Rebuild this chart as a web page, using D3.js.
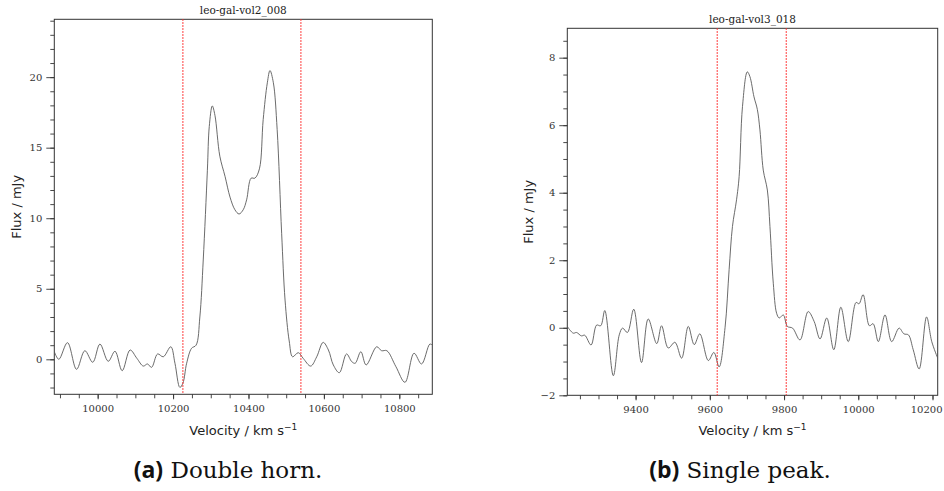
<!DOCTYPE html>
<html>
<head>
<meta charset="utf-8">
<script src="https://cdn.jsdelivr.net/npm/d3@7"></script>
<style>
  html, body { margin: 0; padding: 0; background: #fff; }
  svg { display: block; }
</style>
</head>
<body>
<svg id="chart" width="944" height="491"></svg>
<script>
// spectrum (a): double horn
const leftVelocity = [9885, 9897, 9920, 9944, 9966, 9987, 10006, 10028, 10046, 10065, 10086, 10104, 10121, 10132, 10143, 10159, 10174, 10194, 10205, 10218, 10226, 10236, 10249, 10261, 10271, 10280, 10291, 10296, 10304, 10311, 10324, 10338, 10351, 10364, 10375, 10386, 10395, 10407, 10417, 10429, 10439, 10450, 10457, 10466, 10476, 10488, 10497, 10508, 10517, 10532, 10545, 10565, 10581, 10598, 10612, 10625, 10641, 10660, 10674, 10683, 10698, 10712, 10740, 10753, 10767, 10791, 10815, 10839, 10859, 10881, 10888];
const leftFlux = [0.54, 0.0, 1.18, -0.71, 0.61, -0.21, 1.08, -0.14, 0.57, -0.81, 0.66, 0.07, -0.48, -0.33, -0.57, 0.38, 0.18, 0.89, -0.28, -1.99, -1.7, -0.28, 0.78, 1.0, 3.0, 7.04, 13.4, 16.5, 17.96, 17.3, 14.4, 12.95, 11.5, 10.6, 10.3, 10.6, 11.3, 12.84, 12.84, 13.5, 17.0, 19.6, 20.47, 19.6, 16.3, 8.9, 4.2, 1.3, 0.18, 0.47, 0.07, -0.48, 0.18, 1.2, 0.66, -0.4, -0.95, 0.38, -0.17, -0.28, 0.54, -0.4, 0.89, 0.61, 0.61, -0.52, -1.63, 0.43, -0.33, 1.08, 1.0];
const leftMarkers = [10226, 10539];

// spectrum (b): single peak
const rightVelocity = [9216, 9232, 9241, 9254, 9263, 9280, 9295, 9306, 9317, 9340, 9356, 9365, 9378, 9395, 9416, 9434, 9457, 9470, 9488, 9506, 9524, 9542, 9558, 9573, 9596, 9611, 9625, 9641, 9652, 9661, 9672, 9679, 9688, 9701, 9708, 9719, 9728, 9735, 9744, 9755, 9762, 9771, 9780, 9787, 9798, 9809, 9823, 9843, 9865, 9881, 9897, 9915, 9934, 9953, 9973, 9994, 10002, 10013, 10030, 10040, 10054, 10072, 10090, 10110, 10123, 10135, 10148, 10164, 10184, 10198, 10214];
const rightFlux = [0.04, -0.16, -0.14, -0.24, -0.22, -0.51, 0.08, 0.06, 0.51, -1.42, -0.21, -0.01, -0.14, 0.55, -1.03, 0.26, -0.47, 0.06, -0.6, -0.43, -0.9, 0.04, -0.5, -0.18, -0.97, -0.73, -1.16, 0.0, 1.72, 3.0, 3.79, 4.48, 6.55, 7.58, 7.44, 6.84, 6.47, 5.86, 4.67, 4.08, 3.0, 1.32, 0.43, 0.29, 0.38, 0.04, -0.01, -0.36, 0.48, 0.19, -0.33, 0.29, -0.65, 0.61, -0.41, 0.75, 0.71, 0.98, 0.06, 0.12, -0.41, 0.38, -0.41, -0.01, -0.18, -0.21, -0.65, -1.22, 0.32, -0.41, -0.9];
const rightMarkers = [9620, 9806];

const leftXTicks = [10000, 10200, 10400, 10600, 10800];
const leftYTicks = [0, 5, 10, 15, 20];
const rightXTicks = [9400, 9600, 9800, 10000, 10200];
const rightYTicks = [-2, 0, 2, 4, 6, 8];

const titles = ["leo-gal-vol2_008", "leo-gal-vol3_018"];
const captionTags = ["(a)", "(b)"];
const captionTexts = ["Double horn.", "Single peak."];

const WIDTH = 944;
const svg = d3.select("#chart");
const SERIF = "'DejaVu Serif', serif";
const SANS = "'DejaVu Sans', sans-serif";

function drawPanel(p) {
    const x = d3.scaleLinear().domain(p.xDomain).range([p.left, p.right]);
    const y = d3.scaleLinear().domain(p.yDomain).range([p.bottom, p.top]);
    const g = svg.append("g");

    // minor ticks first, then major ticks with labels
    const xAxisMinor = d3.axisBottom(x).tickValues(d3.range(p.xMinor[0], p.xDomain[1], p.xMinor[1]))
        .tickSize(4).tickFormat("");
    const yAxisMinor = d3.axisLeft(y).tickValues(d3.range(p.yMinor[0], p.yDomain[1], p.yMinor[1]))
        .tickSize(4).tickFormat("");
    g.append("g").attr("transform", `translate(0,${p.bottom})`).call(xAxisMinor);
    g.append("g").attr("transform", `translate(${p.left},0)`).call(yAxisMinor);

    const xAxisG = g.append("g").attr("transform", `translate(0,${p.bottom})`)
        .call(d3.axisBottom(x).tickValues(p.xTicks).tickSize(5).tickPadding(6).tickFormat(d3.format("d")));
    g.append("g").attr("transform", `translate(${p.left},0)`)
        .call(d3.axisLeft(y).tickValues(p.yTicks).tickSize(8).tickPadding(4).tickFormat(d => d < 0 ? "\u2212" + Math.abs(d) : d));

    g.selectAll(".domain").remove();
    g.selectAll(".tick line").attr("stroke", "#333").attr("stroke-width", 0.9);
    g.selectAll(".tick text").attr("fill", "#333").style("font-family", SERIF).style("font-size", "10px");

    // keep the last velocity label inside the page, as in the original
    xAxisG.selectAll(".tick").each(function (d) {
        const t = d3.select(this).select("text");
        const w = t.node().getComputedTextLength();
        const over = x(d) + w / 2 - (WIDTH - 2);
        if (over > 0) t.attr("x", -over);
    });

    // frame
    g.append("rect")
        .attr("x", p.left).attr("y", p.top)
        .attr("width", p.right - p.left).attr("height", p.bottom - p.top)
        .attr("fill", "none").attr("stroke", "#333").attr("stroke-width", 1);

    // clip for data
    const clipId = "clip-" + p.id;
    svg.append("clipPath").attr("id", clipId)
        .append("rect").attr("x", p.left).attr("y", p.top)
        .attr("width", p.right - p.left).attr("height", p.bottom - p.top);

    const line = d3.line()
        .x(d => x(d[0]))
        .y(d => y(d[1]))
        .curve(d3.curveCatmullRom.alpha(0.5));

    g.append("path")
        .datum(d3.zip(p.velocity, p.flux))
        .attr("clip-path", `url(#${clipId})`)
        .attr("fill", "none")
        .attr("stroke", "#5a5a5a")
        .attr("stroke-width", 0.9)
        .attr("d", line);

    g.selectAll(".marker")
        .data(p.markers)
        .join("line")
        .attr("class", "marker")
        .attr("x1", d => x(d)).attr("x2", d => x(d))
        .attr("y1", p.top).attr("y2", p.bottom)
        .attr("stroke", "#ff2a2a")
        .attr("stroke-width", 1.2)
        .attr("stroke-dasharray", "1.5,1.5");

    g.append("text")
        .attr("x", (p.left + p.right) / 2).attr("y", p.top - 5)
        .attr("text-anchor", "middle")
        .attr("fill", "#222")
        .style("font-family", SERIF).style("font-size", "10.5px")
        .text(p.title);

    const xl = g.append("text")
        .attr("x", (p.left + p.right) / 2).attr("y", 435)
        .attr("text-anchor", "middle")
        .attr("fill", "#222")
        .style("font-family", SANS).style("font-size", "13px");
    xl.append("tspan").text("Velocity / km s");
    xl.append("tspan").attr("dy", -5).style("font-size", "9px").text("\u22121");

    g.append("text")
        .attr("transform", `translate(${p.yLabelX},${(p.top + p.bottom) / 2}) rotate(-90)`)
        .attr("text-anchor", "middle")
        .attr("fill", "#222")
        .style("font-family", SANS).style("font-size", "13px")
        .text("Flux / mJy");

    const cap = g.append("text")
        .attr("x", p.captionX).attr("y", 478)
        .attr("text-anchor", "middle")
        .attr("fill", "#111");
    cap.append("tspan")
        .style("font-family", "'Open Sans', sans-serif").style("font-weight", "bold").style("font-size", "23px")
        .text(p.tag);
    cap.append("tspan")
        .style("font-family", SERIF).style("font-size", "23px")
        .text(" " + p.caption);
}

drawPanel({
    id: "a", left: 54.3, right: 432.3, top: 19.3, bottom: 394.3,
    xDomain: [9885, 10887.5], yDomain: [-2.48, 24.1],
    xTicks: leftXTicks, yTicks: leftYTicks,
    xMinor: [9900, 50], yMinor: [-2, 1],
    velocity: leftVelocity, flux: leftFlux, markers: leftMarkers,
    title: titles[0], yLabelX: 21, captionX: 228, tag: captionTags[0], caption: captionTexts[0]
});

drawPanel({
    id: "b", left: 567.3, right: 937.7, top: 28.3, bottom: 395.3,
    xDomain: [9216, 10214], yDomain: [-2, 8.87],
    xTicks: rightXTicks, yTicks: rightYTicks,
    xMinor: [9250, 50], yMinor: [-2, 0.5],
    velocity: rightVelocity, flux: rightFlux, markers: rightMarkers,
    title: titles[1], yLabelX: 533, captionX: 740, tag: captionTags[1], caption: captionTexts[1]
});
</script>
</body>
</html>
